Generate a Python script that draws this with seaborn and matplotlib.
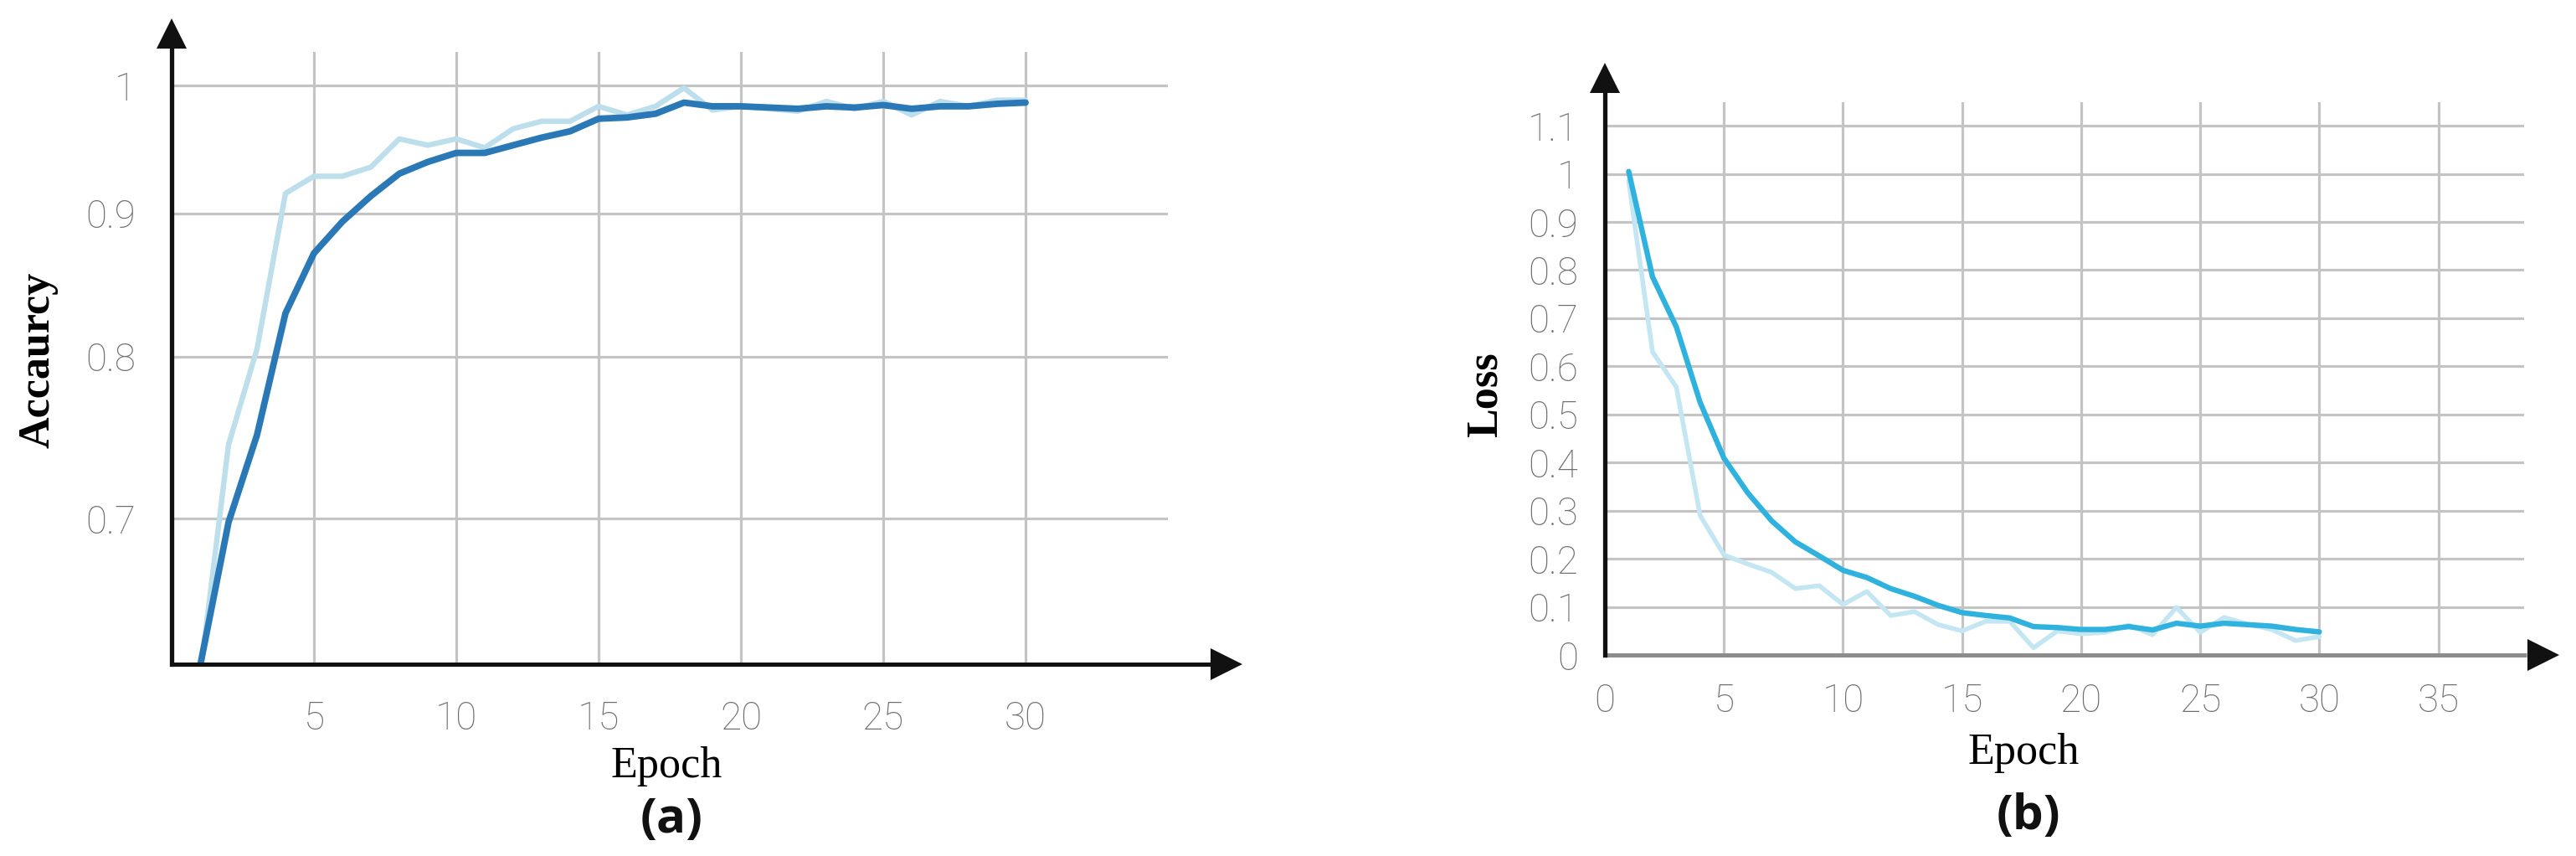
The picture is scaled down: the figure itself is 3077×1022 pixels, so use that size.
import matplotlib
matplotlib.use("Agg")
import matplotlib.pyplot as plt
import seaborn as sns
import pandas as pd
from matplotlib.ticker import NullLocator, FixedLocator, FixedFormatter

# ---- data ----
epochs = list(range(1, 31))
train_acc = [0.620, 0.698, 0.750, 0.829, 0.871, 0.894, 0.913, 0.930, 0.939, 0.946,
             0.946, 0.952, 0.958, 0.963, 0.973, 0.974, 0.977, 0.986, 0.983, 0.983,
             0.982, 0.981, 0.983, 0.982, 0.984, 0.981, 0.983, 0.983, 0.985, 0.986]
val_acc = [0.615, 0.744, 0.805, 0.915, 0.928, 0.928, 0.935, 0.957, 0.952, 0.957,
           0.950, 0.965, 0.971, 0.971, 0.983, 0.976, 0.983, 0.998, 0.980, 0.983,
           0.981, 0.979, 0.987, 0.981, 0.987, 0.976, 0.987, 0.983, 0.988, 0.988]
train_loss = [1.005, 0.786, 0.682, 0.525, 0.409, 0.337, 0.279, 0.235, 0.206, 0.176,
              0.161, 0.138, 0.122, 0.103, 0.088, 0.082, 0.077, 0.059, 0.057, 0.053,
              0.053, 0.059, 0.052, 0.066, 0.060, 0.066, 0.063, 0.060, 0.053, 0.048]
val_loss = [0.985, 0.630, 0.557, 0.290, 0.208, 0.189, 0.172, 0.138, 0.144, 0.105,
            0.132, 0.082, 0.090, 0.063, 0.050, 0.070, 0.070, 0.015, 0.050, 0.044,
            0.047, 0.062, 0.042, 0.099, 0.047, 0.078, 0.064, 0.053, 0.030, 0.038]

acc_yticks = [0.7, 0.8, 0.9, 1.0]
acc_ylabels = ["0.7", "0.8", "0.9", "1"]
acc_xticks = [5, 10, 15, 20, 25, 30]
loss_yticks = [0, 0.1, 0.2, 0.3, 0.4, 0.5, 0.6, 0.7, 0.8, 0.9, 1.0, 1.1]
loss_ylabels = ["0", "0.1", "0.2", "0.3", "0.4", "0.5", "0.6", "0.7", "0.8", "0.9", "1", "1.1"]
loss_xticks = [0, 5, 10, 15, 20, 25, 30, 35]

acc_df = pd.DataFrame({"epoch": epochs, "train": train_acc, "val": val_acc})
loss_df = pd.DataFrame({"epoch": epochs, "train": train_loss, "val": val_loss})

# ---- style ----
sns.set_theme(style="white")
plt.rcParams["font.family"] = ["Roboto", "DejaVu Sans"]
plt.rcParams["font.weight"] = "light"

W, H = 3077, 1022
fig = plt.figure(figsize=(W / 100, H / 100), dpi=100)

GRID = "#c4c4c4"
TICK = "#6e6e6e"

# axes boxes in pixels: x0, x1, y_top, y_bottom
box_a = (205, 1395, 62, 793)
box_b = (1917, 3015, 122, 782)


def add_ax(box):
    x0, x1, yt, yb = box
    return fig.add_axes([x0 / W, 1 - yb / H, (x1 - x0) / W, (yb - yt) / H])


def to_ax(box, px, py):
    x0, x1, yt, yb = box
    return (px - x0) / (x1 - x0), (yb - py) / (yb - yt)


def arrows(ax, box, x_base, x_tip, y_base, y_tip, xcolor="#111111"):
    x0, x1, yt, yb = box
    fxb, _ = to_ax(box, x_base, yb)
    fxc, _ = to_ax(box, (x_base + x_tip) / 2, yb)
    _, fyb = to_ax(box, x0, y_base)
    _, fyc = to_ax(box, x0, (y_base + y_tip) / 2)
    kw = dict(transform=ax.transAxes, clip_on=False, zorder=6)
    ax.plot([0, fxb], [0, 0], color=xcolor, lw=3.6, solid_capstyle="butt", **kw)
    ax.plot([0, 0], [0, fyb], color="#111111", lw=3.8, solid_capstyle="projecting", **kw)
    ax.plot([fxc], [0], marker=">", ms=27, mew=0, color="#111111", **kw)
    ax.plot([0], [fyc], marker="^", ms=26, mew=0, color="#111111", **kw)


def style(ax):
    for s in ax.spines.values():
        s.set_visible(False)
    ax.grid(True, color=GRID, lw=2.3)
    ax.set_axisbelow(True)
    ax.set_xlabel("")
    ax.set_ylabel("")
    ax.set_facecolor("white")


# ---- (a) accuracy ----
ax1 = add_ax(box_a)
sns.lineplot(data=acc_df, x="epoch", y="val", ax=ax1, color="#bddeeb", lw=4.6)
sns.lineplot(data=acc_df, x="epoch", y="train", ax=ax1, color="#2a79b6", lw=5.6)
ax1.set_yscale("log")
ax1.set_xlim(0, 35)
ax1.set_ylim(0.621, 1.028)
ax1.xaxis.set_major_locator(FixedLocator(acc_xticks))
ax1.yaxis.set_major_locator(FixedLocator(acc_yticks))
ax1.yaxis.set_major_formatter(FixedFormatter(acc_ylabels))
ax1.yaxis.set_minor_locator(NullLocator())
style(ax1)
ax1.tick_params(axis="both", length=0, labelsize=33, labelcolor=TICK)
ax1.tick_params(axis="y", pad=31)
ax1.tick_params(axis="x", pad=31)
arrows(ax1, box_a, 1447, 1483, 57, 22)

# ---- (b) loss ----
ax2 = add_ax(box_b)
sns.lineplot(data=loss_df, x="epoch", y="val", ax=ax2, color="#c4e6f3", lw=4.0)
sns.lineplot(data=loss_df, x="epoch", y="train", ax=ax2, color="#2fb2dd", lw=4.6)
ax2.set_xlim(0, 38.6)
ax2.set_ylim(0, 1.149)
ax2.xaxis.set_major_locator(FixedLocator(loss_xticks))
ax2.yaxis.set_major_locator(FixedLocator(loss_yticks))
ax2.yaxis.set_major_formatter(FixedFormatter(loss_ylabels))
style(ax2)
ax2.tick_params(axis="both", length=0, labelsize=33, labelcolor=TICK)
ax2.tick_params(axis="y", pad=23)
ax2.tick_params(axis="x", pad=24)
arrows(ax2, box_b, 3018, 3057, 110, 75, xcolor="#8c8c8c")

# ---- labels ----
serif = ["Liberation Serif", "DejaVu Serif"]
fig.text(796 / W, 1 - 928 / H, "Epoch", ha="center", va="baseline",
         family=serif, weight="normal", size=37.5, color="black")
fig.text(2417 / W, 1 - 912 / H, "Epoch", ha="center", va="baseline",
         family=serif, weight="normal", size=37.5, color="black")
fig.text(46 / W, 1 - 430 / H, "Accaurcy", rotation=90, ha="center", va="center",
         family=serif, weight="bold", size=37.5, color="black")
fig.text(1775 / W, 1 - 471 / H, "Loss", rotation=90, ha="center", va="center",
         family=serif, weight="bold", size=37.5, color="black")
fig.text(802 / W, 1 - 979 / H, "(a)", ha="center", va="center",
         family=["Open Sans", "DejaVu Sans"], weight="bold", size=42, color="#111111")
fig.text(2423 / W, 1 - 975 / H, "(b)", ha="center", va="center",
         family=["Open Sans", "DejaVu Sans"], weight="bold", size=42, color="#111111")

fig.savefig("out.png", dpi=100, facecolor="white")
